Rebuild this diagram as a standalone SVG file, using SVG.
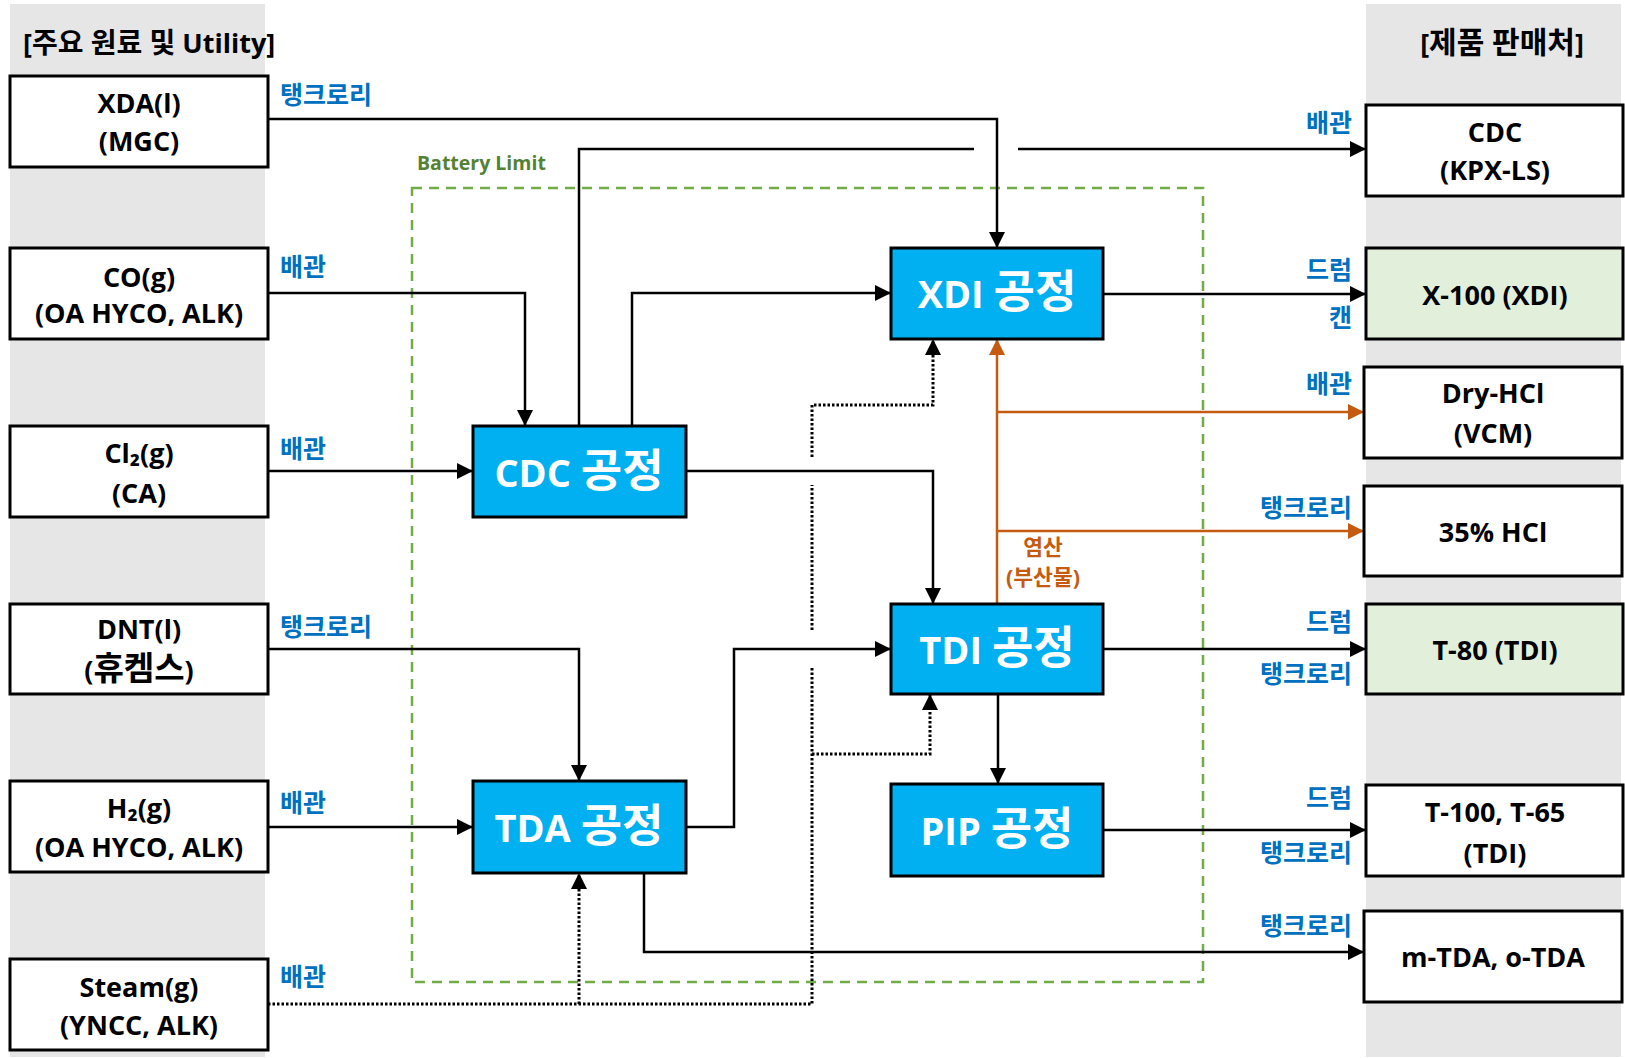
<svg xmlns="http://www.w3.org/2000/svg" width="1625" height="1058" viewBox="0 0 1625 1058">
<defs>
<style>
text{font-family:'Open Sans','Noto Sans CJK KR',sans-serif;font-weight:bold}
.box{fill:#fff;stroke:#000;stroke-width:3}
.gbox{fill:#E2EFDA;stroke:#000;stroke-width:3}
.proc{fill:#00B0F0;stroke:#000;stroke-width:3}
.bt{font-size:27px;fill:#000;text-anchor:middle}
.bt .k{font-size:33px}
.pt{font-size:38px;fill:#fff;text-anchor:middle}
.pt .k{font-size:45px}
.lbl{font-size:25px;fill:#0070C0}
.lr{text-anchor:end}
.ttl{font-size:27px;fill:#000}
.ln{fill:none;stroke:#000;stroke-width:2.5}
.or{fill:none;stroke:#C55A11;stroke-width:2.5}
.dt{fill:none;stroke:#000;stroke-width:3;stroke-dasharray:2.5 2}
.ot{font-size:21.5px;fill:#C55A11;text-anchor:middle}
</style>
<marker id="ah" markerUnits="userSpaceOnUse" markerWidth="16" markerHeight="16" refX="16" refY="8" orient="auto"><path d="M0,0 L16,8 L0,16 z" fill="#000"/></marker>
<marker id="oh" markerUnits="userSpaceOnUse" markerWidth="16" markerHeight="16" refX="16" refY="8" orient="auto"><path d="M0,0 L16,8 L0,16 z" fill="#C55A11"/></marker>
</defs>
<rect x="0" y="0" width="1625" height="1058" fill="#fff"/>
<rect x="10" y="4" width="255" height="1053" fill="#E6E6E6"/>
<rect x="1366" y="4" width="255" height="1053" fill="#E6E6E6"/>
<text class="ttl" x="23" y="53">[<tspan font-size="28">주요 원료 및</tspan> Utility]</text>
<text class="ttl" x="1502" y="53" text-anchor="middle">[<tspan font-size="30">제품 판매처</tspan>]</text>

<g id="battery-limit">
<rect x="412" y="188" width="791" height="794" fill="none" stroke="#70AD47" stroke-width="2.5" stroke-dasharray="10 7"/>
<text x="417" y="170" font-size="19.5" fill="#548235">Battery Limit</text>
</g>

<g id="connectors">
<path class="ln" d="M268,119 H997 V248" marker-end="url(#ah)"/>
<path class="ln" d="M579,426 V149 H974"/>
<path class="ln" d="M1018,149 H1366" marker-end="url(#ah)"/>
<path class="ln" d="M268,293 H525 V426" marker-end="url(#ah)"/>
<path class="ln" d="M632,426 V293 H891" marker-end="url(#ah)"/>
<path class="ln" d="M268,471 H473" marker-end="url(#ah)"/>
<path class="ln" d="M686,471 H933 V604" marker-end="url(#ah)"/>
<path class="ln" d="M266,649 H579 V781" marker-end="url(#ah)"/>
<path class="ln" d="M268,827 H473" marker-end="url(#ah)"/>
<path class="ln" d="M686,827 H734 V649 H891" marker-end="url(#ah)"/>
<path class="ln" d="M644,873 V952 H1364" marker-end="url(#ah)"/>
<path class="ln" d="M1103,294 H1366" marker-end="url(#ah)"/>
<path class="ln" d="M1103,649 H1366" marker-end="url(#ah)"/>
<path class="ln" d="M998,694 V784" marker-end="url(#ah)"/>
<path class="ln" d="M1103,830 H1366" marker-end="url(#ah)"/>
<path class="or" d="M997,604 V339" marker-end="url(#oh)"/>
<path class="or" d="M997,412 H1364" marker-end="url(#oh)"/>
<path class="or" d="M997,531 H1364" marker-end="url(#oh)"/>
<path class="dt" d="M268,1004 H812 V667"/>
<path class="dt" d="M812,630 V485"/>
<path class="dt" d="M812,457 V405 H933 V339" marker-end="url(#ah)"/>
<path class="dt" d="M579,1004 V873" marker-end="url(#ah)"/>
<path class="dt" d="M812,754 H930 V694" marker-end="url(#ah)"/>
<text class="ot" x="1043" y="555">염산</text>
<text class="ot" x="1043" y="585">(부산물)</text>
<text class="lbl" x="280" y="104">탱크로리</text>
<text class="lbl" x="280" y="276">배관</text>
<text class="lbl" x="280" y="458">배관</text>
<text class="lbl" x="280" y="636">탱크로리</text>
<text class="lbl" x="280" y="812">배관</text>
<text class="lbl" x="280" y="986">배관</text>
<text class="lbl lr" x="1352" y="132">배관</text>
<text class="lbl lr" x="1352" y="279">드럼</text>
<text class="lbl lr" x="1352" y="327">캔</text>
<text class="lbl lr" x="1352" y="393">배관</text>
<text class="lbl lr" x="1352" y="517">탱크로리</text>
<text class="lbl lr" x="1352" y="631">드럼</text>
<text class="lbl lr" x="1352" y="683">탱크로리</text>
<text class="lbl lr" x="1352" y="807">드럼</text>
<text class="lbl lr" x="1352" y="862">탱크로리</text>
<text class="lbl lr" x="1352" y="935">탱크로리</text>
</g>

<g id="in-xda"><rect class="box" x="10" y="76" width="258" height="91"/><text class="bt" x="139" y="113">XDA(l)</text><text class="bt" x="139" y="151">(MGC)</text></g>
<g id="in-co"><rect class="box" x="10" y="248" width="258" height="91"/><text class="bt" x="139" y="287">CO(g)</text><text class="bt" x="139" y="323">(OA HYCO, ALK)</text></g>
<g id="in-cl2"><rect class="box" x="10" y="426" width="258" height="91"/><text class="bt" x="139" y="463">Cl₂(g)</text><text class="bt" x="139" y="503">(CA)</text></g>
<g id="in-dnt"><rect class="box" x="10" y="604" width="258" height="90"/><text class="bt" x="139" y="639">DNT(l)</text><text class="bt" x="139" y="680">(<tspan class="k">휴켐스</tspan>)</text></g>
<g id="in-h2"><rect class="box" x="10" y="781" width="258" height="91"/><text class="bt" x="139" y="818">H₂(g)</text><text class="bt" x="139" y="857">(OA HYCO, ALK)</text></g>
<g id="in-steam"><rect class="box" x="10" y="959" width="258" height="91"/><text class="bt" x="139" y="997">Steam(g)</text><text class="bt" x="139" y="1035">(YNCC, ALK)</text></g>

<g id="p-cdc"><rect class="proc" x="473" y="426" width="213" height="91"/><text class="pt" x="579" y="487">CDC <tspan class="k">공정</tspan></text></g>
<g id="p-tda"><rect class="proc" x="473" y="781" width="213" height="92"/><text class="pt" x="579" y="842">TDA <tspan class="k">공정</tspan></text></g>
<g id="p-xdi"><rect class="proc" x="891" y="248" width="212" height="91"/><text class="pt" x="997" y="308">XDI <tspan class="k">공정</tspan></text></g>
<g id="p-tdi"><rect class="proc" x="891" y="604" width="212" height="90"/><text class="pt" x="997" y="664">TDI <tspan class="k">공정</tspan></text></g>
<g id="p-pip"><rect class="proc" x="891" y="784" width="212" height="92"/><text class="pt" x="997" y="845">PIP <tspan class="k">공정</tspan></text></g>

<g id="out-cdc"><rect class="box" x="1366" y="105" width="257" height="91"/><text class="bt" x="1495" y="142">CDC</text><text class="bt" x="1495" y="180">(KPX-LS)</text></g>
<g id="out-x100"><rect class="gbox" x="1366" y="248" width="257" height="91"/><text class="bt" x="1495" y="305">X-100 (XDI)</text></g>
<g id="out-dryhcl"><rect class="box" x="1364" y="367" width="258" height="91"/><text class="bt" x="1493" y="403">Dry-HCl</text><text class="bt" x="1493" y="443">(VCM)</text></g>
<g id="out-hcl"><rect class="box" x="1364" y="486" width="258" height="90"/><text class="bt" x="1493" y="542">35% HCl</text></g>
<g id="out-t80"><rect class="gbox" x="1366" y="604" width="257" height="90"/><text class="bt" x="1495" y="660">T-80 (TDI)</text></g>
<g id="out-t100"><rect class="box" x="1366" y="785" width="257" height="91"/><text class="bt" x="1495" y="822">T-100, T-65</text><text class="bt" x="1495" y="863">(TDI)</text></g>
<g id="out-mtda"><rect class="box" x="1364" y="911" width="258" height="91"/><text class="bt" x="1493" y="967">m-TDA, o-TDA</text></g>
</svg>
